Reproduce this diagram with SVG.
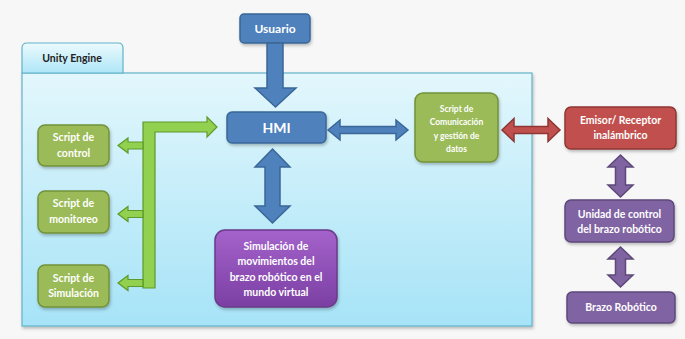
<svg xmlns="http://www.w3.org/2000/svg" width="685" height="339" viewBox="0 0 685 339">
<defs>
<linearGradient id="panelG" x1="0" y1="0" x2="0" y2="1">
<stop offset="0" stop-color="#e3f7fc"/>
<stop offset="1" stop-color="#a6e3f7"/>
</linearGradient>
<linearGradient id="tabG" x1="0" y1="0" x2="0" y2="1">
<stop offset="0" stop-color="#ecfafd"/>
<stop offset="1" stop-color="#aee6f7"/>
</linearGradient>
<linearGradient id="simG" x1="0" y1="0" x2="0" y2="1">
<stop offset="0" stop-color="#a463cb"/>
<stop offset="1" stop-color="#7b3fa3"/>
</linearGradient>
<filter id="sh" x="-10%" y="-10%" width="130%" height="140%">
<feDropShadow dx="1" dy="2" stdDeviation="1.5" flood-color="#000" flood-opacity="0.25"/>
</filter>
</defs>
<style>
text{font-family:Lato,"Liberation Sans",sans-serif;font-weight:bold;text-anchor:middle;fill:#ffffff}
.blue{fill:#4f81bd;stroke:#3a6797;stroke-width:1.5}
.green{fill:#9bbb59;stroke:#73923a;stroke-width:1.5}
.red{fill:#c0504d;stroke:#8e3633;stroke-width:1.5}
.purple{fill:#8064a2;stroke:#5d4879;stroke-width:1.5}
.bus{fill:#92d050;stroke:#5e9a2a;stroke-width:1.2}
.t10{font-size:10.5px}
.t8{font-size:8.5px}
</style>
<rect x="0" y="0" width="685" height="339" fill="#f7f7f7"/>

<g id="unity-engine">
<rect x="22" y="73" width="510" height="253" fill="url(#panelG)" stroke="#62b2c8" stroke-width="1.2" filter="url(#sh)"/>
<path d="M22,73 V48 Q22,43 27,43 H118 Q123,43 123,48 V73 Z" fill="url(#tabG)" stroke="#62b2c8" stroke-width="1.2"/>
<text x="72" y="62" style="fill:#222;font-size:10.5px">Unity Engine</text>
</g>

<g id="usuario">
<rect class="blue" x="240" y="14" width="70" height="29" rx="4" filter="url(#sh)"/>
<text x="275" y="33" style="font-size:12px">Usuario</text>
</g>

<g id="hmi">
<rect class="blue" x="227" y="112" width="99" height="31" rx="5" filter="url(#sh)"/>
<text x="276.5" y="133" style="font-size:14px">HMI</text>
</g>

<g id="script-control">
<rect class="green" x="38" y="125" width="71" height="41" rx="7" filter="url(#sh)"/>
<text class="t10" x="73.5" y="141">Script de</text>
<text class="t10" x="73.5" y="157">control</text>
</g>

<g id="script-monitoreo">
<rect class="green" x="38" y="191" width="71" height="42" rx="7" filter="url(#sh)"/>
<text class="t10" x="73.5" y="207">Script de</text>
<text class="t10" x="73.5" y="223">monitoreo</text>
</g>

<g id="script-simulacion">
<rect class="green" x="38" y="265" width="71" height="42" rx="7" filter="url(#sh)"/>
<text class="t10" x="73.5" y="282">Script de</text>
<text class="t10" x="73.5" y="297">Simulación</text>
</g>

<g id="simulacion">
<rect x="215" y="230" width="122" height="77" rx="10" fill="url(#simG)" stroke="#6a3a8a" stroke-width="1.5" filter="url(#sh)"/>
<text class="t10" x="276" y="250">Simulación de</text>
<text class="t10" x="276" y="265">movimientos del</text>
<text class="t10" x="276" y="281">brazo robótico en el</text>
<text class="t10" x="276" y="296">mundo virtual</text>
</g>

<g id="script-comunicacion">
<rect class="green" x="415" y="93" width="83" height="69" rx="8" filter="url(#sh)"/>
<text class="t8" x="456.5" y="112">Script de</text>
<text class="t8" x="456.5" y="125">Comunicación</text>
<text class="t8" x="456.5" y="139">y gestión de</text>
<text class="t8" x="456.5" y="152">datos</text>
</g>

<g id="emisor-receptor">
<rect class="red" x="565" y="107" width="111" height="42" rx="6" filter="url(#sh)"/>
<text class="t10" x="620.5" y="124">Emisor/ Receptor</text>
<text class="t10" x="620.5" y="139">inalámbrico</text>
</g>

<g id="unidad-control">
<rect class="purple" x="565" y="200" width="109" height="42" rx="6" filter="url(#sh)"/>
<text class="t10" x="619.5" y="218">Unidad de control</text>
<text class="t10" x="619.5" y="233">del brazo robótico</text>
</g>

<g id="brazo-robotico">
<rect class="purple" x="567" y="292" width="108" height="31" rx="5" filter="url(#sh)"/>
<text class="t10" x="621" y="311">Brazo Robótico</text>
</g>

<g id="connectors">
<polygon class="blue" points="267,43 283,43 283,88 296,88 275.5,107 255,88 267,88"/>
<polygon class="blue" points="272.5,149 290,167 280,167 280,206 290,206 272.5,223 255,206 265,206 265,167 255,167"/>
<polygon class="blue" points="328,130 340,120 340,126.5 396,126.5 396,120 408,130 396,140 396,133.5 340,133.5 340,140"/>
<polygon class="bus" points="143,122 207,122 207,117 217,127 207,137 207,132 155,132 155,288 143,288"/>
<polygon class="bus" points="143,142 128,142 128,138 118,145.5 128,153 128,149 143,149"/>
<polygon class="bus" points="143,210.5 128,210.5 128,206.5 118,214 128,221.5 128,217.5 143,217.5"/>
<polygon class="bus" points="143,279.5 128,279.5 128,275.5 118,283 128,290.5 128,286.5 143,286.5"/>
<polygon class="red" points="502,130 514,118.5 514,126.5 548,126.5 548,118.5 560,130 548,141.5 548,133.5 514,133.5 514,141.5"/>
<polygon class="purple" points="620.5,155 633,167 625.5,167 625.5,185 633,185 620.5,197 608,185 615.5,185 615.5,167 608,167"/>
<polygon class="purple" points="620.5,247 633,259 625.5,259 625.5,275 633,275 620.5,287 608,275 615.5,275 615.5,259 608,259"/>
</g>
</svg>
